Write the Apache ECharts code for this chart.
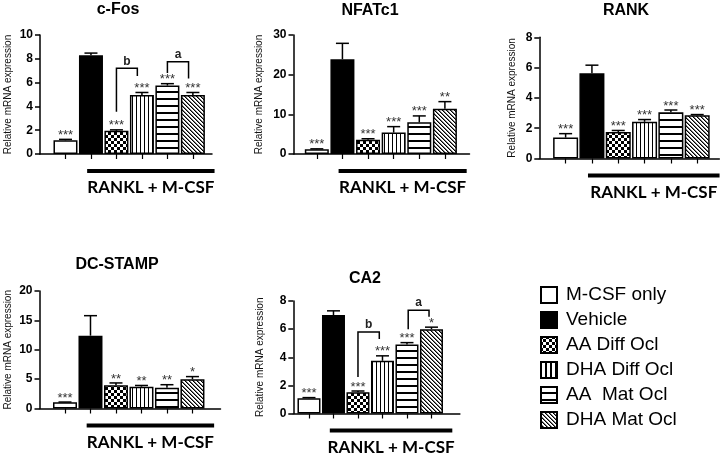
<!DOCTYPE html>
<html><head><meta charset="utf-8">
<script src="https://cdn.jsdelivr.net/npm/echarts@6/dist/echarts.min.js"></script>
<style>html,body{margin:0;padding:0;background:#fff}#c{width:728px;height:457px}</style>
</head><body><div id="c"></div>
<script>
// ---------- data ----------
const categories = ['M-CSF only','Vehicle','AA Diff Ocl','DHA Diff Ocl','AA  Mat Ocl','DHA Mat Ocl'];
const panelTitles = ['c-Fos','NFATc1','RANK','DC-STAMP','CA2'];
const groupLabel = 'RANKL + M-CSF';
const groupSpan = [1.85, 6.85];
const yAxisName = 'Relative mRNA expression';

const cfosMean = [1.15, 8.3, 1.95, 4.95, 5.75, 4.95];
const cfosErr = [0.08, 0.18, 0.08, 0.22, 0.16, 0.22];
const cfosStars = ['***','','***','***','***','***'];
const cfosTicks = [0,2,4,6,8,10];
const cfosBrackets = [[3,3.82,7.2,3.55,6.55,'b'],[5,5.83,7.75,6.8,6.35,'a']];

const nfatMean = [1.2, 23.9, 3.6, 5.4, 8.0, 11.4];
const nfatErr = [0.1, 4.0, 0.25, 1.5, 1.6, 1.8];
const nfatStars = ['***','','***','***','***','**'];
const nfatTicks = [0,10,20,30];
const nfatBrackets = [];

const rankMean = [1.38, 5.62, 1.75, 2.42, 3.05, 2.85];
const rankErr = [0.26, 0.54, 0.1, 0.15, 0.15, 0.05];
const rankStars = ['***','','***','***','***','***'];
const rankTicks = [0,2,4,6,8];
const rankBrackets = [];

const dcMean = [1.05, 12.4, 3.95, 3.72, 3.55, 4.97];
const dcErr = [0.05, 3.4, 0.4, 0.2, 0.5, 0.46];
const dcStars = ['***','','**','**','**','*'];
const dcTicks = [0,5,10,15,20];
const dcBrackets = [];

const ca2Mean = [1.08, 7.0, 1.52, 3.75, 4.9, 6.0];
const ca2Err = [0.05, 0.3, 0.08, 0.35, 0.14, 0.14];
const ca2Stars = ['***','','***','***','***','*'];
const ca2Ticks = [0,2,4,6,8];
const ca2Brackets = [[3,3.87,5.8,2.6,5.3,'b'],[5.05,5.9,7.35,6.0,6.88,'a']];

const panelData = [
  {mean:cfosMean, err:cfosErr, stars:cfosStars, ticks:cfosTicks, brackets:cfosBrackets},
  {mean:nfatMean, err:nfatErr, stars:nfatStars, ticks:nfatTicks, brackets:nfatBrackets},
  {mean:rankMean, err:rankErr, stars:rankStars, ticks:rankTicks, brackets:rankBrackets},
  {mean:dcMean, err:dcErr, stars:dcStars, ticks:dcTicks, brackets:dcBrackets},
  {mean:ca2Mean, err:ca2Err, stars:ca2Stars, ticks:ca2Ticks, brackets:ca2Brackets}
];

// ---------- layout / style ----------
const layout = [
  {left:40,    top:35,   bottom:154,   width:172,   xMin:0,    xMax:6.75, barW:24, tx:118, ty:10,  nameGap:27},
  {left:293.5, top:35,   bottom:154,   width:176,   xMin:0.09, xMax:6.96, barW:24, tx:370, ty:11,  nameGap:29},
  {left:539.3, top:37.3, bottom:158.5, width:180,   xMin:0,    xMax:6.84, barW:25, tx:626, ty:11,  nameGap:22},
  {left:39.5,  top:291,  bottom:408.5, width:181,   xMin:0,    xMax:7.1,  barW:24, tx:117, ty:265, nameGap:26},
  {left:293.3, top:301,  bottom:413.5, width:166.6, xMin:0.36, xMax:7.16, barW:23, tx:365, ty:279, nameGap:28}
];
const FONT = 'Liberation Sans, Arial, sans-serif';

function makeCanvas(w,h,draw){
  const c=document.createElement('canvas');c.width=w;c.height=h;
  const g=c.getContext('2d');g.fillStyle='#fff';g.fillRect(0,0,w,h);g.fillStyle='#000';draw(g);return c;
}
const pat = c => ({image:c, repeat:'repeat'});
const diag = g => {for(let i=0;i<4;i++){g.fillRect(i,i,1,1);} g.fillStyle='#777'; for(let i=0;i<4;i++){g.fillRect((i+1)%4,i,1,1);}};
const barPatterns = [
  '#fff', '#000',
  pat(makeCanvas(6,6,g=>{g.fillRect(0,0,3,3);g.fillRect(3,3,3,3);})),
  pat(makeCanvas(4,1,g=>{g.fillRect(0,0,1,1);})),
  pat(makeCanvas(1,7,g=>{g.fillRect(0,0,1,2);})),
  pat(makeCanvas(4,4,diag))
];
const legendPatterns = [
  '#fff', '#000',
  pat(makeCanvas(6,6,g=>{g.fillRect(0,0,3,3);g.fillRect(3,3,3,3);})),
  pat(makeCanvas(5,1,g=>{g.fillRect(0,0,2,1);})),
  pat(makeCanvas(1,7,g=>{g.fillRect(0,0,1,2);})),
  pat(makeCanvas(4,4,diag))
];

const grids=[], xAxes=[], yAxes=[], series=[], graphics=[];

panelData.forEach((pd,i)=>{
  const L = layout[i];
  const t = pd.ticks;
  grids.push({left:L.left, top:L.top, width:L.width, height:L.bottom-L.top, containLabel:false, outerBoundsMode:'none'});
  xAxes.push({gridIndex:i, type:'value', min:L.xMin, max:L.xMax,
    axisLine:{show:true, onZero:false, lineStyle:{color:'#000', width:1.5}},
    axisTick:{show:true, customValues:categories.map((c,j)=>j+1), length:5, lineStyle:{color:'#000', width:1.2}},
    axisLabel:{show:false}, splitLine:{show:false}});
  yAxes.push({gridIndex:i, type:'value', min:t[0], max:t[t.length-1], interval:t[1]-t[0],
    name:yAxisName, nameLocation:'middle', nameGap:L.nameGap, nameRotate:90,
    nameTextStyle:{fontSize:10, fontFamily:FONT, color:'#111'},
    axisLine:{show:true, onZero:false, lineStyle:{color:'#000', width:1.5}},
    axisTick:{show:true, length:5, lineStyle:{color:'#000', width:1.5}},
    axisLabel:{fontSize:12, fontWeight:'bold', color:'#000', margin:7, fontFamily:FONT},
    splitLine:{show:false}});
  series.push({type:'bar', xAxisIndex:i, yAxisIndex:i, barWidth:L.barW, silent:true, animation:false,
    itemStyle:{borderColor:'#000', borderWidth:1.5},
    data: pd.mean.map((v,j)=>({value:[j+1,v], itemStyle:{color:barPatterns[j]}}))});
  series.push({type:'custom', xAxisIndex:i, yAxisIndex:i, z:3, clip:false, silent:true, animation:false,
    data: pd.mean.map((v,j)=>[j+1, v, pd.err[j]]),
    renderItem:(params, api)=>{
      const x=api.value(0), m=api.value(1), e=api.value(2);
      const p0=api.coord([x,m]), p1=api.coord([x,m+e]);
      const cap=6.5;
      const ch=[
        {type:'line', shape:{x1:p0[0],y1:p0[1],x2:p1[0],y2:p1[1]}, style:{stroke:'#000', lineWidth:1.5}},
        {type:'line', shape:{x1:p1[0]-cap,y1:p1[1],x2:p1[0]+cap,y2:p1[1]}, style:{stroke:'#000', lineWidth:1.5}}
      ];
      const s = pd.stars[params.dataIndex];
      if(s) ch.push({type:'text', style:{text:s, x:p1[0], y:p1[1]-4, align:'center', verticalAlign:'middle', font:'13px '+FONT, fill:'#333'}});
      return {type:'group', children:ch};
    }});
  if(pd.brackets.length){
    series.push({type:'custom', xAxisIndex:i, yAxisIndex:i, z:4, clip:false, silent:true, animation:false,
      data: pd.brackets.map(b=>[b[0],b[1],b[2],b[3],b[4]]),
      renderItem:(params, api)=>{
        const x1=api.value(0), x2=api.value(1), yt=api.value(2), yl=api.value(3), yr=api.value(4);
        const a=api.coord([x1,yl]), b=api.coord([x1,yt]), c=api.coord([x2,yt]), d=api.coord([x2,yr]);
        return {type:'group', children:[
          {type:'polyline', shape:{points:[a,b,c,d]}, style:{stroke:'#000', lineWidth:1.5, fill:null}},
          {type:'text', style:{text:pd.brackets[params.dataIndex][5], x:(b[0]+c[0])/2, y:b[1]-7, align:'center', verticalAlign:'middle', font:'bold 12px '+FONT, fill:'#222'}}
        ]};
      }});
  }
  series.push({type:'custom', xAxisIndex:i, yAxisIndex:i, z:4, clip:false, silent:true, animation:false,
    data:[[groupSpan[0], groupSpan[1]]],
    renderItem:(params, api)=>{
      const a=api.coord([api.value(0),0]), b=api.coord([api.value(1),0]);
      return {type:'group', children:[
        {type:'line', shape:{x1:a[0],y1:a[1]+17,x2:b[0],y2:b[1]+17}, style:{stroke:'#000', lineWidth:4}},
        {type:'text', style:{text:groupLabel, x:(a[0]+b[0])/2, y:a[1]+34, align:'center', verticalAlign:'middle', font:'bold 17px Lato, sans-serif', fill:'#000'}}
      ]};
    }});
  graphics.push({type:'text', x:L.tx, y:L.ty, style:{text:panelTitles[i], align:'center', verticalAlign:'middle', font:'bold 16px '+FONT, fill:'#000'}});
});

categories.forEach((c,j)=>{
  const cy = 295 + 25*j;
  graphics.push({type:'rect', shape:{x:541, y:cy-8, width:16, height:16}, style:{fill:legendPatterns[j], stroke:'#000', lineWidth:2}});
  graphics.push({type:'text', x:566, y:cy, style:{text:c, align:'left', verticalAlign:'middle', font:'19px '+FONT, fill:'#000'}});
});

const chart = echarts.init(document.getElementById('c'), null, {renderer:'canvas'});
chart.setOption({animation:false, backgroundColor:'#fff', grid:grids, xAxis:xAxes, yAxis:yAxes, series:series, graphic:graphics});
</script></body></html>
